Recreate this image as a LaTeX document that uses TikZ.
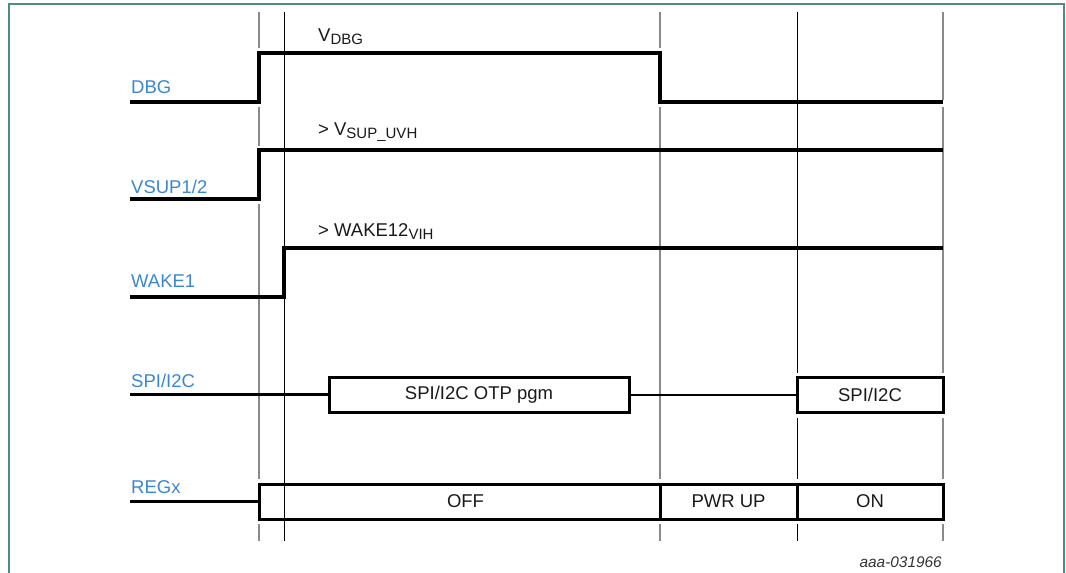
\documentclass[tikz,border=0pt]{standalone}
\usepackage{fontspec}
\setmainfont{Liberation Sans}
\usepackage{tikz}
\definecolor{labelblue}{HTML}{3A87CF}
\definecolor{framegreen}{HTML}{4E8C82}
\definecolor{guidegray}{HTML}{8A8A8A}
\newcommand{\lowsub}[1]{\raisebox{-3pt}{\fontsize{15}{15}\selectfont #1}}

\begin{document}
\begin{tikzpicture}[x=1pt, y=-1pt,
    wave/.style={line width=3.1pt},
    guide/.style={guidegray, line width=1.4pt},
    marker/.style={black, line width=1pt},
    siglabel/.style={labelblue, font=\fontsize{18.5}{22}\selectfont, anchor=base west, inner sep=0pt},
    level/.style={text=black!90, font=\fontsize{18.5}{22}\selectfont, anchor=base west, inner sep=0pt},
    phase/.style={draw, line width=3pt, minimum height=35pt, inner sep=0pt, outer sep=0pt, text=black!90, font=\fontsize{18.5}{22}\selectfont}]
    \useasboundingbox (0,0) rectangle (1066,573);
    % frame
    \draw[framegreen, line width=1.3pt] (9,573) -- (9,4) -- (1064,4) -- (1064,573);

    % time markers
    \draw[guide] (259,12) -- (259,48) (259,107) -- (259,146) (259,204) -- (259,479) (259,524) -- (259,541);
    \draw[marker] (284,12) -- (284,541);
    \draw[guide] (660,12) -- (660,48) (660,107) -- (660,479) (660,524) -- (660,541);
    \draw[marker] (797,12) -- (797,373) (797,418) -- (797,479) (797,524) -- (797,541);
    \draw[guide] (943,12) -- (943,100) (943,107) -- (943,373) (943,418) -- (943,479) (943,524) -- (943,541);

    % signal names
    \node[siglabel] (dbg) at (131,93) {DBG};
    \node[siglabel] (vsup) at (131,193) {VSUP1/2};
    \node[siglabel] (wake) at (131,287) {WAKE1};
    \node[siglabel] (spi) at (131,387) {SPI/I2C};
    \node[siglabel] (regx) at (131,493) {REGx};

    % DBG
    \draw[wave] (130,102) -- (259,102) -- (259,53) -- (660,53) -- (660,102) -- (943,102);
    \node[level] (vdbg) at (318,41) {V\lowsub{DBG}};
    % VSUP1/2
    \draw[wave] (130,199) -- (259,199) -- (259,150) -- (943,150);
    \node[level] (vsuplvl) at (318,135) {> V\lowsub{SUP\_UVH}};
    % WAKE1
    \draw[wave] (130,297) -- (284,297) -- (284,248) -- (943,248);
    \node[level] (wakelvl) at (318,236) {> WAKE12\lowsub{VIH}};

    % SPI/I2C
    \node[phase, minimum width=300pt] (otp) at (479,394.5) {SPI/I2C OTP pgm};
    \node[phase, minimum width=146pt] (spion) at (870,394.5) {SPI/I2C};
    \draw[wave] (130,394.5) -- (otp.west);
    \draw[line width=2pt] (otp.east) -- (spion.west);

    % REGx
    \node[phase, minimum width=401pt] (off) at (459.5,501.5) {\hspace{12pt}OFF};
    \node[phase, minimum width=137pt, anchor=west] (pwrup) at (off.east) {PWR UP};
    \node[phase, minimum width=146pt, anchor=west] (on) at (pwrup.east) {ON};
    \draw[wave] (130,501.5) -- (off.west);

    \node[anchor=base east, inner sep=0pt, font=\fontsize{15.4}{18}\selectfont\itshape, text=black!80] (figid) at (942,567) {aaa-031966};
\end{tikzpicture}
\end{document}
